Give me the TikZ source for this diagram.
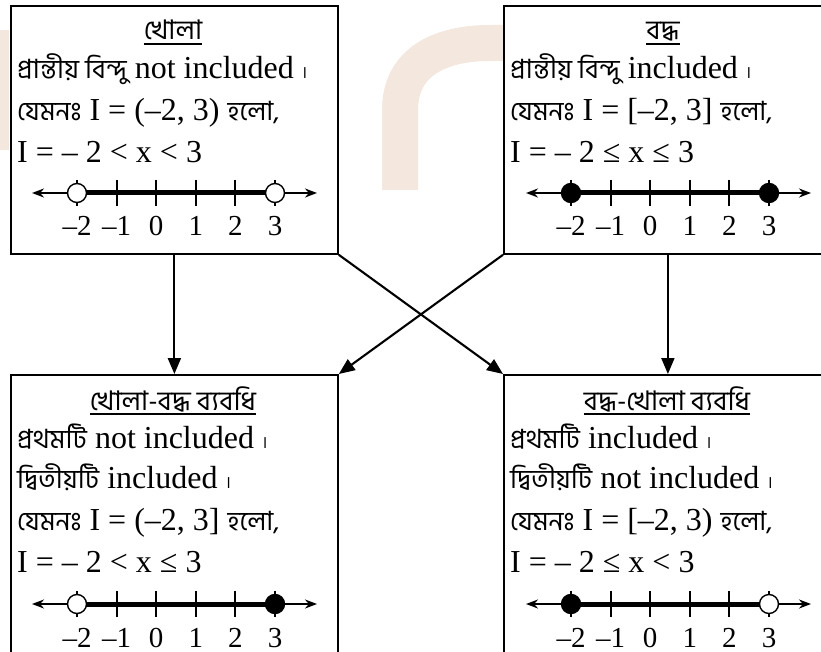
\documentclass[tikz,border=0pt]{standalone}
\usepackage{fontspec}
\setmainfont{Liberation Serif}
\newfontfamily\bnf[Script=Bengali]{Hind Siliguri}
\newcommand\bn{\bnf\fontsize{26.5}{32}\selectfont}
\newcommand\dnd{{\bnf\fontsize{17}{20}\selectfont ।}}
\usetikzlibrary{arrows.meta,calc}
\definecolor{wm}{RGB}{243,231,222}
\tikzset{
 box/.style={draw, line width=1.8pt, fill=white, inner sep=0, anchor=north west},
 conn/.style={line width=2.1pt, -{Triangle[length=16pt,width=13pt]}},
 txt/.style={anchor=base west, inner sep=0, font=\fontsize{32}{38}\selectfont},
 ttl/.style={anchor=base, inner sep=0, font=\bnf\fontsize{27}{33}\selectfont},
 uline/.style={line width=1.2pt},
 lbl/.style={anchor=base, inner sep=0, font=\fontsize{29}{34}\selectfont},
 axis/.style={line width=1.9pt, {Stealth[length=12pt,width=9pt]}-{Stealth[length=12pt,width=9pt]}},
 seg/.style={line width=5pt},
 tck/.style={line width=2pt},
 opendot/.style={circle, draw, line width=1.4pt, fill=white, minimum size=19pt, inner sep=0},
 closeddot/.style={circle, draw, line width=1.4pt, fill=black, minimum size=19pt, inner sep=0},
}
\newcommand\numline[5]{%
 \coordinate (#1a) at ({#2-45},#3);
 \coordinate (#1b) at ({#2+240},#3);
 \coordinate (#1t0) at (#2,#3);
 \coordinate (#1t5) at ({#2+5*39.6},#3);
 \draw[axis] (#1a) -- (#1b);
 \draw[seg] (#1t0) -- (#1t5);
 \foreach \k [count=\i from 0] in {–2,–1,0,1,2,3} {
   \coordinate (#1c\i) at ({#2+39.6*\i},#3);
   \draw[tck] ([yshift=13pt]#1c\i) -- ([yshift=-13pt]#1c\i);
   \node[lbl] (#1n\i) at ({#2+39.6*\i},{#3+43}) {\k};
 }
 \node[#4] (#1l) at (#1t0) {};
 \node[#5] (#1r) at (#1t5) {};
}
\begin{document}
\begin{tikzpicture}[x=1pt,y=-1pt]
\useasboundingbox (0,0) rectangle (821,652);
\clip (0,0) rectangle (821,652);
% watermark
\draw[wm, line width=36pt] (400,190) -- (400,110) .. controls (400,62) and (440,43) .. (490,43) -- (600,43);
\fill[wm] (-10,30) rectangle (9,150);
% boxes
\node[box, minimum width=327pt, minimum height=248pt] (TL) at (10,5) {};
\node[box, minimum width=328pt, minimum height=248pt] (TR) at (503,5) {};
\node[box, minimum width=327pt, minimum height=300pt] (BL) at (10,374) {};
\node[box, minimum width=328pt, minimum height=300pt] (BR) at (503,374) {};
% connectors
\draw[conn] (TL.south) -- (BL.north);
\draw[conn] (TR.south) -- (BR.north);
\draw[conn] (TL.south east) -- (BR.north west);
\draw[conn] (TR.south west) -- (BL.north east);
% top-left
\node[ttl] (TLh) at (173,40) {খোলা};
\draw[uline] ($(TLh.base west)+(0,4)$) -- ($(TLh.base east)+(0,4)$);
\node[txt] (TL1) at (17,79) {{\bn প্রান্তীয় বিন্দু} not included \dnd};
\node[txt] (TL2) at (17,121) {{\bn যেমনঃ} I = (–2, 3) {\bn হলো,}};
\node[txt] (TL3) at (17,163) {I = – 2 < x < 3};
\numline{tl}{77}{193}{opendot}{opendot}
% top-right
\node[ttl] (TRh) at (663,40) {বদ্ধ};
\draw[uline] ($(TRh.base west)+(0,4)$) -- ($(TRh.base east)+(0,4)$);
\node[txt] (TR1) at (510,79) {{\bn প্রান্তীয় বিন্দু} included \dnd};
\node[txt] (TR2) at (510,121) {{\bn যেমনঃ} I = [–2, 3] {\bn হলো,}};
\node[txt] (TR3) at (510,163) {I = – 2 ≤ x ≤ 3};
\numline{tr}{571}{193}{closeddot}{closeddot}
% bottom-left
\node[ttl] (BLh) at (173,410) {খোলা-বদ্ধ ব্যবধি};
\draw[uline] ($(BLh.base west)+(0,4)$) -- ($(BLh.base east)+(0,4)$);
\node[txt] (BL1) at (17,448) {{\bn প্রথমটি} not included \dnd};
\node[txt] (BL2) at (17,488) {{\bn দ্বিতীয়টি} included \dnd};
\node[txt] (BL3) at (17,530) {{\bn যেমনঃ} I = (–2, 3] {\bn হলো,}};
\node[txt] (BL4) at (17,572) {I = – 2 < x ≤ 3};
\numline{bl}{77}{604}{opendot}{closeddot}
% bottom-right
\node[ttl] (BRh) at (667,410) {বদ্ধ-খোলা ব্যবধি};
\draw[uline] ($(BRh.base west)+(0,4)$) -- ($(BRh.base east)+(0,4)$);
\node[txt] (BR1) at (510,448) {{\bn প্রথমটি} included \dnd};
\node[txt] (BR2) at (510,488) {{\bn দ্বিতীয়টি} not included \dnd};
\node[txt] (BR3) at (510,530) {{\bn যেমনঃ} I = [–2, 3) {\bn হলো,}};
\node[txt] (BR4) at (510,572) {I = – 2 ≤ x < 3};
\numline{br}{571}{604}{closeddot}{opendot}
\end{tikzpicture}
\end{document}
